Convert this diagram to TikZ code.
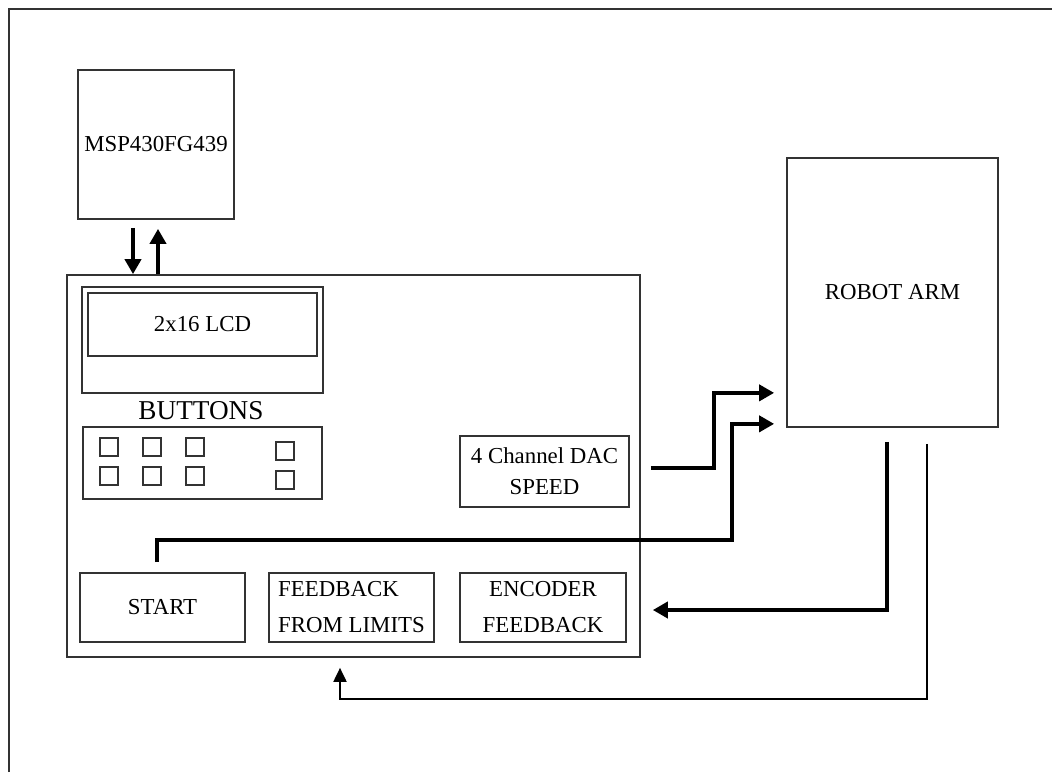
\documentclass[tikz,border=0pt]{standalone}
\usepackage{fontspec}
\setmainfont{Liberation Serif}
\usetikzlibrary{arrows.meta}

\begin{document}
\begin{tikzpicture}[x=0.02cm,y=-0.02cm,font=\fontsize{13}{20.5}\selectfont,
  box/.style={rectangle,draw=black!80,line width=1pt,inner sep=0pt,align=center},
  key/.style={rectangle,draw=black!80,line width=0.9pt,minimum size=0.36cm,inner sep=0pt},
  bus/.style={-{Triangle[length=0.3cm,width=0.32cm]},line width=2.2pt},
  wire/.style={-{Triangle[length=0.28cm,width=0.26cm]},line width=1.1pt}]
\useasboundingbox (0,0) rectangle (1052,772);
% page frame
\draw[black!80,line width=1.3pt] (9,772) -- (9,9) -- (1052,9);

\node[box,minimum width=3.12cm,minimum height=2.98cm] (msp) at (156,144.5) {MSP430FG439};
\node[box,minimum width=11.46cm,minimum height=7.64cm] (panel) at (353.5,466) {};
\node[box,minimum width=4.82cm,minimum height=2.12cm] (lcdframe) at (202.5,340) {};
\node[box,minimum width=4.58cm,minimum height=1.26cm] (lcd) at (202.5,324.5) {2x16 LCD};
\node[font=\fontsize{15.5}{18}\selectfont] (btnlabel) at (201,411) {BUTTONS};
\node[box,minimum width=4.78cm,minimum height=1.44cm] (keypad) at (202.5,463) {};
\foreach \kx in {109,152,195}
  \foreach \ky in {447,476}
    \node[key] (k-\kx-\ky) at (\kx,\ky) {};
\foreach \ky in {451,480}
  \node[key] (k-285-\ky) at (285,\ky) {};
\node[box,minimum width=3.38cm,minimum height=1.42cm,font=\fontsize{13}{17.5}\selectfont] (dac) at (544.5,471.5) {4 Channel DAC\\SPEED};
\node[box,minimum width=4.22cm,minimum height=5.38cm] (robot) at (892.5,292.5) {ROBOT ARM};
\node[box,minimum width=3.3cm,minimum height=1.38cm] (start) at (162.5,607.5) {START};
\node[box,minimum width=3.3cm,minimum height=1.38cm,align=left] (limits) at (351.5,607.5) {FEEDBACK\\FROM LIMITS};
\node[box,minimum width=3.32cm,minimum height=1.38cm] (encoder) at (543,607.5) {ENCODER\\FEEDBACK};

% controller link
\draw[bus] ([xshift=-0.46cm,yshift=-0.16cm]msp.south) -- ([xshift=-0.46cm]msp.south |- panel.north);
\draw[bus] ([xshift=0.04cm]msp.south |- panel.north) -- ([xshift=0.04cm,yshift=-0.18cm]msp.south);
% to the arm
\draw[bus] ([xshift=0.42cm,yshift=0.07cm]dac.east) -- ++(63,0) |- ([xshift=-0.24cm,yshift=0.7cm]robot.south west);
\draw[bus] ([xshift=-0.11cm,yshift=0.2cm]start.north) -- ++(0,-22) -- ++(575,0) |- ([xshift=-0.24cm,yshift=0.08cm]robot.south west);
% back from the arm
\draw[bus] ([xshift=-0.11cm,yshift=-0.28cm]robot.south) |- ([xshift=0.24cm,yshift=-0.05cm]panel.east |- encoder.east);
\draw[wire] ([xshift=0.69cm,yshift=-0.32cm]robot.south) -- ++(0,255) -| ([xshift=-0.23cm,yshift=-0.2cm]limits.south |- panel.south);
\end{tikzpicture}
\end{document}
